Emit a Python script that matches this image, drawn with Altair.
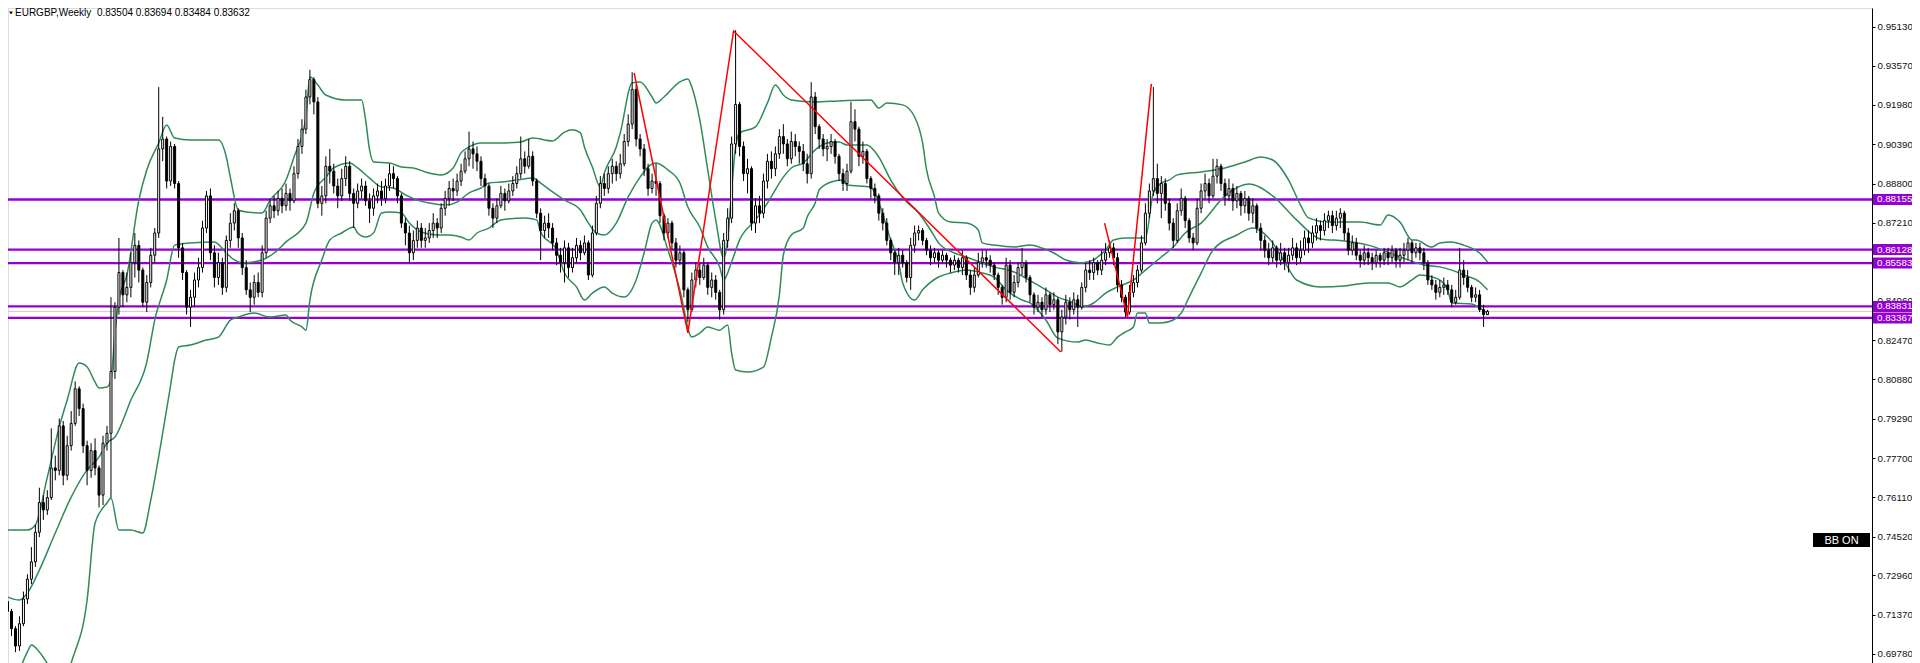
import altair as alt
import pandas as pd

FONT = "Liberation Sans"

# ---------------- data (prices in 1/10000) ----------------
FIRST_OPEN = 7190
CLOSE = [
    7150, 7080, 7010, 7100, 7200, 7280, 7350, 7470, 7590, 7560,
    7610, 7730, 7720, 7900, 7700, 7820, 7910, 8050, 7970, 7820,
    7720, 7800, 7730, 7620, 7830, 7870, 8120, 8380, 8520, 8430,
    8460, 8560, 8630, 8530, 8400, 8480, 8590, 8680, 9020, 9060,
    8890, 9030, 8880, 8620, 8520, 8380, 8420, 8490, 8540, 8700,
    8830, 8600, 8500, 8560, 8460, 8650, 8720, 8770, 8660, 8540,
    8450, 8420, 8480, 8440, 8600, 8740, 8790, 8770, 8820, 8790,
    8840, 8810, 8920, 9030, 9100, 9230, 9300, 9210, 8800, 8830,
    8950, 8930, 8870, 8830, 8900, 8950, 8840, 8800, 8850, 8870,
    8810, 8780, 8830, 8850, 8820, 8870, 8920, 8900, 8830, 8720,
    8680, 8600, 8650, 8700, 8650, 8660, 8690, 8720, 8700, 8780,
    8820, 8860, 8850, 8890, 8930, 8980, 9020, 9000, 8970, 8900,
    8870, 8780, 8740, 8790, 8840, 8810, 8850, 8880, 8920, 8980,
    8950, 8990, 8890, 8760, 8690, 8720, 8700, 8640, 8590, 8560,
    8620, 8540, 8580, 8630, 8600, 8640, 8510, 8680, 8800, 8880,
    8860, 8920, 8950, 8920, 8960, 9050, 9120, 9260, 9060, 9020,
    8940, 8860, 8890, 8880, 8750, 8680, 8720, 8640, 8570, 8600,
    8450, 8370, 8490, 8530, 8500, 8550, 8460, 8490, 8440, 8370,
    8650, 8740, 9040, 9200, 9030, 8920, 8940, 8720, 8790, 8760,
    8890, 8970, 8940, 9000, 9070, 9040, 8980, 9050, 9030, 9010,
    8960, 8920, 9230, 9110, 9060, 9020, 9030, 9050, 8990, 8920,
    8880, 8930, 9130, 9100, 8990, 9010, 8900, 8860, 8830, 8760,
    8720, 8650, 8600, 8560, 8590, 8560, 8500, 8630, 8680, 8690,
    8650, 8610, 8580, 8600, 8570, 8590, 8570, 8550, 8570, 8540,
    8580, 8510, 8460, 8510, 8560, 8580, 8570, 8550, 8510, 8460,
    8420, 8550, 8440, 8480, 8540, 8560, 8500, 8430, 8380, 8400,
    8370, 8430, 8390, 8410, 8280, 8340, 8400, 8370, 8410, 8380,
    8460, 8530, 8520, 8560, 8530, 8570, 8600, 8620, 8580, 8470,
    8420, 8360, 8440, 8480, 8530, 8640, 8760, 8850, 8900, 8840,
    8880, 8800, 8720, 8650, 8770, 8820, 8730, 8660, 8640, 8780,
    8850, 8880, 8830, 8910, 8950, 8880, 8830, 8860, 8810, 8840,
    8790, 8820, 8760, 8790, 8700, 8650, 8610, 8580, 8620, 8570,
    8600, 8560, 8590, 8620, 8580, 8610, 8660, 8640, 8680, 8710,
    8690, 8730, 8750, 8710, 8740, 8760, 8680, 8610, 8640, 8590,
    8570, 8600, 8580, 8560, 8590, 8570, 8600, 8580, 8610, 8570,
    8590, 8610, 8640, 8600, 8620, 8600, 8560, 8490, 8470, 8440,
    8460, 8470, 8450, 8400, 8420, 8530, 8500, 8460, 8420, 8430,
    8370, 8350, 8363,
]
HIGH = [
    7210, 7160, 7090, 7130, 7230, 7300, 7410, 7500, 7650, 7620,
    7640, 7890, 7780, 7930, 7920, 7860, 7960, 8080, 8060, 7990,
    7840, 7830, 7850, 7740, 7860, 7900, 8420, 8400, 8660, 8530,
    8520, 8600, 8680, 8650, 8540, 8510, 8620, 8700, 9270, 9150,
    9070, 9050, 9040, 8890, 8640, 8530, 8450, 8520, 8580, 8730,
    8850, 8860, 8630, 8600, 8580, 8670, 8760, 8800, 8780, 8680,
    8570, 8480, 8510, 8520, 8630, 8770, 8820, 8830, 8850, 8860,
    8880, 8860, 8950, 9060, 9140, 9260, 9340, 9310, 9230, 8870,
    8990, 9020, 8960, 8900, 8940, 8990, 8970, 8860, 8880, 8900,
    8890, 8840, 8860, 8880, 8890, 8900, 8960, 8950, 8910, 8840,
    8740, 8710, 8690, 8730, 8720, 8700, 8720, 8760, 8740, 8800,
    8850, 8890, 8900, 8920, 8960, 9010, 9090, 9050, 9030, 8990,
    8920, 8880, 8800, 8820, 8870, 8860, 8880, 8910, 8950, 9070,
    9010, 9060, 9010, 8900, 8780, 8750, 8760, 8720, 8660, 8620,
    8650, 8640, 8620, 8660, 8650, 8670, 8650, 8710, 8830, 8910,
    8920, 8950, 8980, 8970, 9000, 9080, 9160, 9330, 9280, 9080,
    9040, 8960, 8920, 8960, 8890, 8760, 8740, 8730, 8660, 8630,
    8610, 8460, 8520, 8560, 8560, 8580, 8560, 8520, 8510, 8450,
    8680, 8780, 9070, 9500, 9210, 9050, 8980, 8950, 8820, 8830,
    8920, 9000, 9010, 9030, 9100, 9120, 9060, 9090, 9080, 9050,
    9040, 9000, 9290, 9250, 9120, 9080, 9060, 9080, 9060, 9000,
    8940, 8960, 9210, 9180, 9110, 9050, 9020, 8910, 8880, 8840,
    8780, 8740, 8660, 8610, 8620, 8610, 8570, 8660, 8710, 8710,
    8700, 8660, 8630, 8620, 8610, 8610, 8600, 8580, 8590, 8580,
    8610, 8590, 8530, 8540, 8600, 8610, 8610, 8590, 8560, 8520,
    8470, 8580, 8570, 8510, 8560, 8620, 8570, 8510, 8440, 8430,
    8420, 8460, 8440, 8440, 8420, 8370, 8430, 8420, 8440, 8430,
    8480, 8560, 8570, 8580, 8570, 8610, 8640, 8650, 8640, 8600,
    8490, 8430, 8470, 8510, 8550, 8670, 8800, 8880, 9270, 8960,
    8910, 8900, 8820, 8740, 8800, 8860, 8830, 8740, 8680, 8820,
    8880, 8920, 8900, 8980, 8980, 8960, 8900, 8900, 8880, 8870,
    8850, 8850, 8830, 8820, 8800, 8720, 8670, 8640, 8650, 8630,
    8640, 8620, 8620, 8660, 8640, 8650, 8690, 8690, 8710, 8740,
    8730, 8760, 8770, 8770, 8770, 8780, 8770, 8700, 8670, 8660,
    8610, 8630, 8620, 8600, 8610, 8600, 8620, 8620, 8630, 8620,
    8620, 8640, 8660, 8650, 8640, 8640, 8620, 8570, 8510, 8490,
    8490, 8500, 8490, 8470, 8450, 8620, 8570, 8530, 8470, 8460,
    8450, 8390, 8369,
]
LOW = [
    7120, 7050, 6985, 6990, 7090, 7180, 7260, 7330, 7450, 7520,
    7540, 7600, 7680, 7700, 7660, 7680, 7800, 7900, 7940, 7790,
    7660, 7690, 7700, 7570, 7580, 7800, 7610, 8090, 8350, 8380,
    8400, 8420, 8500, 8480, 8380, 8360, 8460, 8560, 8660, 8970,
    8860, 8870, 8860, 8580, 8490, 8350, 8300, 8380, 8460, 8520,
    8680, 8570, 8460, 8470, 8430, 8440, 8620, 8690, 8620, 8510,
    8430, 8360, 8390, 8420, 8420, 8580, 8720, 8740, 8750, 8760,
    8770, 8770, 8800, 8900, 9000, 9080, 9200, 9160, 8780, 8750,
    8800, 8880, 8840, 8780, 8810, 8870, 8810, 8700, 8780, 8820,
    8790, 8720, 8750, 8800, 8790, 8800, 8850, 8860, 8800, 8700,
    8630, 8560, 8570, 8620, 8620, 8620, 8640, 8660, 8660, 8680,
    8750, 8790, 8810, 8830, 8870, 8920, 8950, 8940, 8930, 8870,
    8820, 8750, 8700, 8720, 8780, 8770, 8800, 8830, 8860, 8900,
    8920, 8940, 8870, 8740, 8570, 8660, 8660, 8610, 8550, 8520,
    8480, 8500, 8520, 8560, 8570, 8590, 8490, 8500, 8670, 8780,
    8830, 8840, 8880, 8890, 8900, 8950, 9030, 9100, 9030, 8990,
    8910, 8830, 8840, 8830, 8720, 8650, 8660, 8610, 8540, 8550,
    8420, 8320, 8360, 8460, 8470, 8490, 8430, 8420, 8410, 8330,
    8350, 8620, 8720, 9000, 8990, 8890, 8840, 8690, 8680, 8720,
    8740, 8860, 8900, 8910, 8980, 9000, 8950, 8960, 8990, 8960,
    8930, 8880, 8900, 9080, 9020, 8990, 8970, 9000, 8960, 8890,
    8850, 8850, 8920, 9050, 8950, 8960, 8880, 8820, 8800, 8730,
    8690, 8630, 8570, 8510, 8510, 8540, 8480, 8450, 8600, 8650,
    8630, 8590, 8550, 8560, 8540, 8560, 8540, 8520, 8530, 8520,
    8510, 8490, 8430, 8440, 8500, 8540, 8540, 8520, 8490, 8430,
    8390, 8400, 8410, 8420, 8460, 8510, 8480, 8400, 8350, 8360,
    8340, 8350, 8360, 8370, 8230, 8200, 8310, 8330, 8350, 8300,
    8370, 8440, 8490, 8490, 8510, 8510, 8550, 8580, 8550, 8440,
    8400, 8340, 8350, 8420, 8460, 8520, 8630, 8740, 8830, 8800,
    8740, 8770, 8690, 8620, 8640, 8750, 8700, 8640, 8610, 8630,
    8760, 8820, 8800, 8820, 8880, 8850, 8790, 8810, 8770, 8780,
    8750, 8760, 8730, 8720, 8680, 8610, 8580, 8550, 8560, 8540,
    8550, 8530, 8520, 8570, 8550, 8560, 8590, 8600, 8620, 8650,
    8650, 8670, 8700, 8680, 8690, 8700, 8650, 8590, 8590, 8570,
    8540, 8550, 8550, 8530, 8540, 8540, 8550, 8550, 8560, 8540,
    8540, 8560, 8570, 8560, 8580, 8570, 8530, 8470, 8450, 8410,
    8420, 8430, 8430, 8380, 8390, 8410, 8470, 8440, 8400, 8400,
    8360, 8300, 8348,
]

# Bollinger bands, sampled (bar index, price in 1/10000)
BB_UP_I = [0, 5, 7, 10, 13, 15, 18, 20, 22, 23, 25, 26, 27, 28, 30, 33, 35, 38, 40, 42,
           46, 50, 53, 55, 56, 58, 60, 64, 66, 70, 72, 75, 76, 78, 80, 85, 89, 90, 91, 92,
           96, 99, 102, 105, 109, 112, 114, 116, 119, 124, 129, 132, 137, 140, 142, 144, 145, 147, 149, 150,
           153, 154, 157, 159, 162, 163, 165, 169, 171, 172, 174, 176, 178, 180, 181, 182, 183, 184, 188, 191,
           193, 195, 197, 203, 209, 217, 219, 221, 225, 228, 230, 231, 233, 234, 237, 241, 244, 245, 248, 253,
           257, 260, 263, 266, 270, 273, 274, 276, 278, 281, 286, 288, 290, 292, 294, 300, 306, 311, 315, 318,
           322, 325, 327, 332, 340, 345, 347, 350, 353, 354, 358, 360, 363, 366, 370, 372]
BB_UP_P = [7479, 7479, 7499, 7693, 7896, 8005, 8154, 8138, 8077, 8053, 8057, 8086, 8276, 8409, 8510, 8813, 8935, 9044, 9117, 9064,
           9056, 9056, 9056, 8987, 8906, 8773, 8765, 8761, 8813, 8894, 8987, 9149, 9311, 9278, 9238, 9218, 9218, 9137, 9016, 8967,
           8963, 8947, 8943, 8927, 8915, 8943, 9004, 9028, 9044, 9044, 9048, 9064, 9052, 9088, 9097, 9085, 9028, 8947, 8866, 8923,
           9028, 9084, 9287, 9291, 9230, 9206, 9230, 9291, 9303, 9270, 9137, 8935, 8733, 8579, 8652, 8854, 9028, 9084, 9109, 9206,
           9278, 9238, 9218, 9210, 9214, 9218, 9185, 9206, 9198, 9149, 9044, 8935, 8826, 8761, 8724, 8720, 8692, 8640, 8631, 8623,
           8631, 8619, 8599, 8571, 8559, 8571, 8583, 8611, 8652, 8660, 8660, 8842, 8882, 8894, 8915, 8927, 8943, 8967, 8987, 8975,
           8894, 8793, 8741, 8724, 8724, 8712, 8753, 8724, 8652, 8652, 8623, 8640, 8644, 8631, 8599, 8563]

BB_MID_I = [0, 3, 5, 8, 12, 16, 20, 23, 25, 27, 31, 35, 37, 40, 42, 46, 52, 55, 57, 59,
            64, 67, 70, 75, 77, 80, 82, 86, 88, 91, 94, 97, 100, 103, 106, 110, 113, 116, 119, 121,
            124, 128, 132, 134, 137, 140, 144, 146, 148, 150, 153, 156, 159, 161, 163, 166, 169, 171, 174, 176,
            179, 180, 182, 184, 188, 191, 195, 197, 200, 203, 206, 209, 211, 216, 219, 222, 225, 229, 232, 234,
            238, 241, 245, 248, 253, 258, 261, 264, 268, 270, 273, 276, 279, 283, 286, 290, 293, 296, 300, 306,
            312, 318, 324, 330, 336, 342, 350, 356, 360, 363, 366, 370, 372]
BB_MID_P = [7208, 7196, 7224, 7317, 7467, 7612, 7722, 7774, 7831, 7855, 8005, 8158, 8328, 8490, 8631, 8640, 8644, 8599, 8571, 8559,
            8571, 8599, 8644, 8720, 8842, 8906, 8943, 8963, 8943, 8902, 8866, 8862, 8834, 8813, 8801, 8793, 8805, 8842, 8862, 8882,
            8886, 8894, 8902, 8882, 8846, 8813, 8773, 8720, 8680, 8672, 8720, 8826, 8906, 8947, 8963, 8935, 8882, 8785, 8704, 8623,
            8543, 8490, 8563, 8652, 8733, 8801, 8906, 8943, 8963, 9016, 9044, 9048, 9036, 9036, 8987, 8894, 8822, 8761, 8692, 8640,
            8599, 8583, 8559, 8543, 8522, 8478, 8450, 8421, 8397, 8381, 8397, 8437, 8462, 8490, 8530, 8583, 8623, 8680, 8720, 8830,
            8878, 8830, 8733, 8656, 8648, 8631, 8583, 8551, 8543, 8530, 8510, 8482, 8450]

BB_LO_I = [0, 2, 5, 6, 8, 11, 14, 16, 20, 22, 25, 26, 28, 31, 34, 36, 39, 41, 42, 43,
           46, 50, 53, 56, 58, 62, 66, 70, 71, 74, 75, 76, 79, 81, 84, 87, 88, 90, 92, 94,
           96, 99, 101, 104, 108, 111, 114, 116, 118, 121, 124, 130, 133, 134, 138, 140, 143, 145, 147, 150,
           152, 155, 158, 160, 162, 163, 166, 169, 172, 174, 176, 179, 181, 182, 183, 186, 190, 192, 194, 195,
           197, 200, 201, 203, 204, 207, 210, 211, 217, 218, 222, 224, 225, 228, 230, 234, 237, 241, 245, 248,
           251, 255, 257, 261, 264, 269, 271, 274, 277, 279, 281, 283, 284, 286, 287, 290, 293, 295, 297, 300,
           303, 309, 313, 317, 321, 324, 330, 336, 342, 347, 350, 353, 355, 358, 360, 362, 363, 368, 370, 372]
BB_LO_P = [6792, 6872, 6986, 7014, 6986, 6913, 6832, 6941, 7196, 7507, 7588, 7608, 7479, 7479, 7467, 7600, 7871, 8065, 8166, 8219,
           8227, 8247, 8259, 8328, 8340, 8356, 8340, 8348, 8328, 8300, 8287, 8409, 8571, 8652, 8680, 8704, 8680, 8664, 8680, 8761,
           8765, 8761, 8720, 8684, 8672, 8672, 8664, 8652, 8680, 8700, 8733, 8741, 8733, 8684, 8611, 8518, 8462, 8409, 8437, 8462,
           8437, 8421, 8490, 8599, 8720, 8733, 8611, 8450, 8259, 8275, 8300, 8287, 8308, 8195, 8126, 8118, 8138, 8259, 8429, 8591,
           8672, 8700, 8745, 8801, 8854, 8886, 8894, 8874, 8866, 8842, 8652, 8559, 8478, 8409, 8450, 8502, 8518, 8530, 8518, 8502,
           8450, 8409, 8397, 8328, 8255, 8239, 8247, 8235, 8227, 8259, 8280, 8300, 8356, 8356, 8316, 8316, 8328, 8356, 8421, 8518,
           8611, 8672, 8700, 8660, 8563, 8490, 8462, 8466, 8478, 8478, 8462, 8490, 8510, 8502, 8490, 8450, 8397, 8393, 8377, 8356]

# red zig-zag (bar index, price)
ZZ_SEG = ["a", "a", "a", "a", "b", "b", "b"]
ZZ_I = [157.5, 171, 182.5, 264.75, 275.75, 281.5, 287.5]
ZZ_P = [0.9327, 0.8276, 0.9497, 0.8199, 0.8720, 0.8340, 0.9283]

LEVELS = [0.88155, 0.86128, 0.85583, 0.83831, 0.83367]
LEVEL_TXT = ["0.88155", "0.86128", "0.85583", "0.83831", "0.83367"]
LAST_PRICE = 0.83632
TICKS = [0.9513, 0.9357, 0.9198, 0.9039, 0.8880, 0.8721, 0.8563, 0.8406, 0.8247,
         0.8088, 0.7929, 0.7770, 0.7611, 0.7452, 0.7296, 0.7137, 0.6978]
TITLE = "EURGBP,Weekly\u00a0\u00a00.83504 0.83694 0.83484 0.83632"

# ---------------- frames ----------------
n = len(CLOSE)
opens = [FIRST_OPEN] + CLOSE[:-1]
candles = pd.DataFrame({
    "i": list(range(n)),
    "o": [v / 10000 for v in opens],
    "h": [v / 10000 for v in HIGH],
    "l": [v / 10000 for v in LOW],
    "c": [v / 10000 for v in CLOSE],
})
bands = pd.concat([
    pd.DataFrame({"i": BB_UP_I, "p": [v / 10000 for v in BB_UP_P], "band": "up"}),
    pd.DataFrame({"i": BB_MID_I, "p": [v / 10000 for v in BB_MID_P], "band": "mid"}),
    pd.DataFrame({"i": BB_LO_I, "p": [v / 10000 for v in BB_LO_P], "band": "lo"}),
])
zz = pd.DataFrame({"i": ZZ_I, "p": ZZ_P, "seg": ZZ_SEG})
levels = pd.DataFrame({"p": LEVELS, "label": LEVEL_TXT})
last = pd.DataFrame({"p": [LAST_PRICE]})
one = pd.DataFrame({"k": [0]})

W, H = 1864, 655
X0 = 1.375
XS = alt.Scale(domain=[X0, X0 + W / 4], nice=False, zero=False)
YS = alt.Scale(domain=[0.69412, 0.95898], nice=False, zero=False)
AX = alt.Axis(orient="right", values=TICKS, format=".5f", grid=False, title=None,
              labelFont=FONT, labelFontSize=9.8, labelColor="#111111",
              tickSize=3, tickColor="#000000", domainColor="#000000", domainWidth=1,
              labelPadding=2, labelOverlap=False, labelFlush=False)


def X(f):
    return alt.X(f, type="quantitative", scale=XS, axis=None, title=None)


def Y(f):
    return alt.Y(f, type="quantitative", scale=YS, axis=AX, title=None)


last_line = alt.Chart(last).mark_rule(color="#C8C8C8", strokeWidth=1).encode(y=Y("p"))
lvl_lines = alt.Chart(levels).mark_rule(color="#9400D3", strokeWidth=2.4).encode(y=Y("p"))

band_lines = alt.Chart(bands).mark_line(color="#2E8B57", strokeWidth=1.5, clip=True,
                                        interpolate="monotone").encode(
    x=X("i"), y=Y("p"), detail="band:N")

wicks = alt.Chart(candles).mark_rule(color="black", strokeWidth=1, clip=True).encode(
    x=X("i"), y=Y("l"), y2="h")
bodies = alt.Chart(candles).mark_bar(size=2, stroke="black", strokeWidth=1, clip=True).encode(
    x=X("i"), y=Y("o"), y2="c",
    fill=alt.condition("datum.c >= datum.o", alt.value("white"), alt.value("black")))

zz_lines = alt.Chart(zz).mark_line(color="#FF0000", strokeWidth=1.5, clip=True).encode(
    x=X("i"), y=Y("p"), detail="seg:N")

lvl_boxes = alt.Chart(levels).transform_calculate(
    top="datum.p + 0.00222", bot="datum.p - 0.00222"
).mark_rect(color="#9400D3").encode(
    x=alt.value(W + 1), x2=alt.value(W + 40), y=Y("top"), y2="bot")
lvl_text = alt.Chart(levels).mark_text(align="left", baseline="middle", color="white",
                                       font=FONT, fontSize=9.8).encode(
    x=alt.value(W + 5), y=Y("p"), text="label:N")

bb_box = alt.Chart(one).mark_rect(color="black").encode(
    x=alt.value(1805), x2=alt.value(1862), y=alt.value(525), y2=alt.value(539))
bb_text = alt.Chart(one).mark_text(text="BB ON", color="white", font=FONT, fontSize=11,
                                   align="center", baseline="middle").encode(
    x=alt.value(1833.5), y=alt.value(532.5))

title_tri = alt.Chart(one).mark_point(shape="triangle-down", filled=True, color="black",
                                      size=14, opacity=1).encode(
    x=alt.value(3), y=alt.value(5))
title_txt = alt.Chart(one).mark_text(text=TITLE, align="left", baseline="top", color="black",
                                     font=FONT, fontSize=10).encode(
    x=alt.value(7), y=alt.value(0))

chart = alt.layer(
    last_line, lvl_lines, band_lines, wicks, bodies, zz_lines,
    lvl_boxes, lvl_text, bb_box, bb_text, title_tri, title_txt
).properties(
    width=W, height=H,
    padding={"left": 0, "top": 0, "right": 40, "bottom": 0},
    autosize=alt.AutoSizeParams(type="none"),
).configure_view(strokeWidth=0).configure(background="white")

chart.save("out.html", embed_options={"renderer": "svg", "actions": False})
